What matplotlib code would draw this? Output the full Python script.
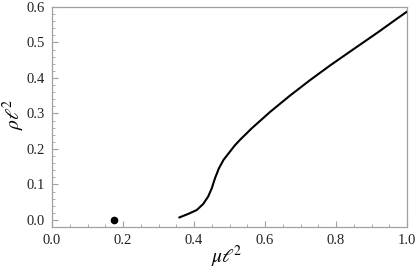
import matplotlib
matplotlib.use("Agg")
import matplotlib.pyplot as plt
from matplotlib.ticker import MultipleLocator, FormatStrFormatter

plt.rcParams['mathtext.fontset'] = 'stix'
plt.rcParams['font.family'] = ['Liberation Serif', 'DejaVu Serif']

mu = [0.359, 0.384, 0.408, 0.426, 0.440, 0.450, 0.459, 0.470, 0.483, 0.501,
      0.515, 0.530, 0.5625, 0.614, 0.670, 0.727, 0.783, 0.839, 0.868, 0.920,
      0.966, 1.0]
rho = [0.007, 0.017, 0.028, 0.045, 0.066, 0.089, 0.117, 0.145, 0.169, 0.192,
       0.210, 0.226, 0.258, 0.304, 0.350, 0.394, 0.435, 0.474, 0.494, 0.530,
       0.563, 0.587]
dot_mu = [0.175]
dot_rho = [0.0]

fig = plt.figure(figsize=(4.15, 2.77), dpi=100)
ax = fig.add_axes([52/415, 1-227/277, (407-52)/415, (227-7)/277])
ax.plot(mu, rho, color='black', lw=1.5, solid_joinstyle='round')
ax.plot(dot_mu, dot_rho, 'o', color='black', ms=4.5)
ax.set_xlim(0, 1.0)
ax.set_ylim(-0.02, 0.6)
ax.xaxis.set_major_locator(MultipleLocator(0.2))
ax.xaxis.set_minor_locator(MultipleLocator(0.05))
ax.yaxis.set_major_locator(MultipleLocator(0.1))
ax.yaxis.set_minor_locator(MultipleLocator(0.02))
ax.xaxis.set_major_formatter(FormatStrFormatter('%.1f'))
ax.yaxis.set_major_formatter(FormatStrFormatter('%.1f'))
for s in ax.spines.values():
    s.set_color('#a0a0a0')
    s.set_linewidth(0.9)
ax.tick_params(which='both', direction='in', color='#a0a0a0', top=False, right=False,
               labelsize=10.5, labelcolor='#222222')
ax.tick_params(which='major', length=4, width=0.8, pad=5)
ax.tick_params(which='minor', length=2.5, width=0.6)
ax.set_xlabel(r'$\mu\ell^{\!2}$', fontsize=14, va='center')
ax.set_ylabel(r'$\rho\ell^{\!2}$', fontsize=14, va='center')
ax.xaxis.set_label_coords((227-52)/355, (227-257)/220)
ax.yaxis.set_label_coords((14-52)/355, (227-115)/220)
fig.savefig('out.png', dpi=100)
